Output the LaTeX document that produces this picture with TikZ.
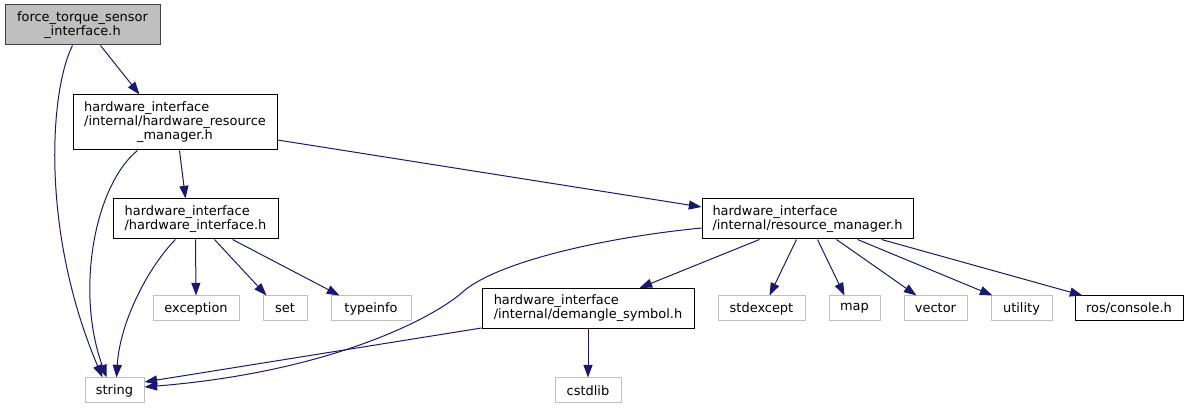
\documentclass[tikz,border=0pt]{standalone}
\usepackage{fontspec}
\setmainfont{DejaVu Sans}
\usetikzlibrary{arrows.meta, calc}
\definecolor{edgeblue}{HTML}{191970}
\definecolor{sysgray}{HTML}{BFBFBF}
\definecolor{rootgray}{HTML}{404040}
\newdimen\pxu
\pxu=0.75pt

\begin{document}
\begin{tikzpicture}[
    x=0.75pt, y=-0.75pt,
    every node/.style={rectangle, inner sep=0pt, font=\fontsize{9.7}{10.5}\selectfont, align=left},
    header/.style={draw=black, line width=0.75pt},
    sysheader/.style={draw=sysgray, line width=0.75pt, minimum height=25\pxu},
    root/.style={draw=rootgray, fill=sysgray, line width=0.75pt, align=center},
    arrow/.style={-{Triangle[length=9.5pt, width=6.8pt]}, line width=0.75pt, draw=edgeblue}
]
\useasboundingbox (0,0) rectangle (1189,409);

% included files
\node[root, minimum width=155\pxu, minimum height=40\pxu] (main) at (82.5,25) {force\_torque\_sensor\\\_interface.h};
\node[header, minimum width=204\pxu, minimum height=55\pxu] (hrm) at (175,122.5) {\begin{tabular}{@{}l@{}}hardware\_interface\\/internal/hardware\_resource\\\multicolumn{1}{@{}c@{}}{\_manager.h}\end{tabular}};
\node[header, minimum width=165\pxu, minimum height=40\pxu] (hi) at (195.5,219) {hardware\_interface\\/hardware\_interface.h};
\node[header, minimum width=211\pxu, minimum height=40\pxu] (rm) at (807.5,219) {hardware\_interface\\/internal/resource\_manager.h};
\node[header, minimum width=212\pxu, minimum height=40\pxu] (demangle) at (588,308.5) {hardware\_interface\\/internal/demangle\_symbol.h};
\node[header, minimum width=108\pxu, minimum height=25\pxu] (console) at (1129,308.5) {ros/console.h};

% system headers
\node[sysheader, minimum width=86\pxu] (exception) at (196,308.5) {exception};
\node[sysheader, minimum width=44\pxu] (set) at (285,308.5) {set};
\node[sysheader, minimum width=80\pxu] (typeinfo) at (371,308.5) {typeinfo};
\node[sysheader, minimum width=59\pxu] (string) at (114.5,390.5) {string};
\node[sysheader, minimum width=66\pxu] (cstdlib) at (588,390.5) {cstdlib};
\node[sysheader, minimum width=87\pxu] (stdexcept) at (761.5,308.5) {stdexcept};
\node[sysheader, minimum width=51\pxu] (map) at (854.5,308.5) {map};
\node[sysheader, minimum width=63\pxu] (vector) at (935.5,308.5) {vector};
\node[sysheader, minimum width=61\pxu] (utility) at (1021.5,308.5) {utility};

\draw[arrow] ($(main.south west)+(68,0)$) .. controls (50,90) and (40,230) .. ($(string.north west)+(18,0)$);
\draw[arrow] ($(main.south west)+(96,0)$) -- ($(hrm.north west)+(67,0)$);
\draw[arrow] ($(hrm.south west)+(65,0)$) .. controls (95,185) and (75,290) .. ($(string.north west)+(22,0)$);
\draw[arrow] ($(hrm.south west)+(107,0)$) -- ($(hi.north west)+(73,0)$);
\draw[arrow] ($(hrm.east)+(0,17.5)$) -- ($(rm.west)+(0,-12)$);
\draw[arrow] ($(hi.south west)+(63,0)$) .. controls (150,265) and (120,320) .. ($(string.north west)+(32,0)$);
\draw[arrow] ($(hi.south west)+(83,0)$) -- (exception.north);
\draw[arrow] ($(hi.south west)+(102,0)$) -- ($(set.north west)+(4,0)$);
\draw[arrow] ($(hi.south west)+(120,0)$) -- ($(typeinfo.north west)+(9,0)$);
\draw[arrow] ($(rm.west)+(0,9)$) .. controls (600,238) and (500,262) .. (465,290) .. controls (435,318) and (330,372) .. ($(string.east)+(0,-3.5)$);
\draw[arrow] ($(demangle.south west)+(0,-1)$) -- ($(string.east)+(0,-8.5)$);
\draw[arrow] ($(rm.south west)+(58,0)$) -- ($(demangle.north west)+(158,0)$);
\draw[arrow] ($(rm.south west)+(95,0)$) -- ($(stdexcept.north west)+(52,0)$);
\draw[arrow] ($(rm.south west)+(116,0)$) -- ($(map.north west)+(16,0)$);
\draw[arrow] ($(rm.south west)+(135,0)$) -- ($(vector.north west)+(13,0)$);
\draw[arrow] ($(rm.south west)+(156,0)$) -- ($(utility.north west)+(2,0)$);
\draw[arrow] ($(rm.south west)+(180,0)$) -- ($(console.north west)+(8,0)$);
\draw[arrow] (demangle) -- (cstdlib);

\end{tikzpicture}
\end{document}
